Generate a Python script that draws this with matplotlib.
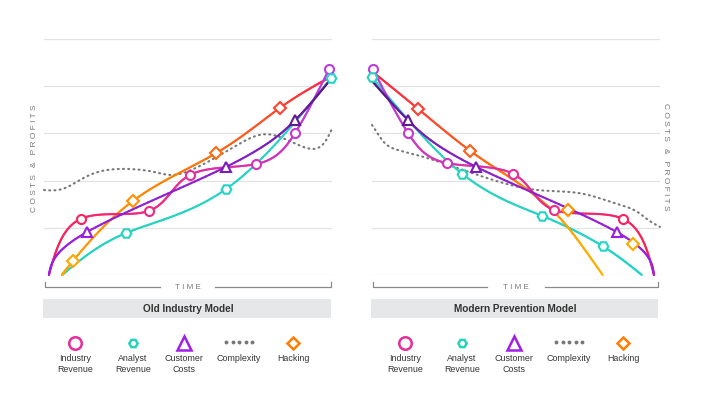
import numpy as np
import matplotlib.pyplot as plt
from matplotlib.collections import LineCollection
from matplotlib.colors import LinearSegmentedColormap

# ---- data (time 0..100, level 0..5) ----
old_ir_x = [1.7, 12.8, 36.5, 50.7, 73.6, 87.2, 99.0]
old_ir_y = [0, 1.19, 1.36, 2.12, 2.35, 3.01, 4.36]
old_an_x = [6.3, 28.5, 63.2, 99.7]
old_an_y = [0, 0.89, 1.82, 4.17]
old_cc_x = [1.7, 14.9, 63.2, 87.2, 99.3]
old_cc_y = [0, 0.91, 2.29, 3.28, 4.13]
old_hk_x = [6.3, 10.1, 30.9, 59.7, 81.9, 99.3]
old_hk_y = [0, 0.30, 1.57, 2.58, 3.54, 4.19]
old_hk_mx = [10.1, 30.9, 59.7, 81.9]
old_hk_my = [0.30, 1.57, 2.58, 3.54]
old_cx_x = [0, 8.0, 19.8, 36.8, 48.3, 65.6, 79.2, 93.1, 100]
old_cx_y = [1.80, 1.86, 2.20, 2.20, 2.16, 2.70, 2.97, 2.67, 3.10]

new_ir_x = [0.3, 12.5, 26.1, 49.1, 63.1, 87.1, 97.9]
new_ir_y = [4.36, 3.01, 2.37, 2.14, 1.38, 1.19, 0]
new_an_x = [0, 31.4, 59.2, 80.1, 93.7]
new_an_y = [4.19, 2.14, 1.25, 0.61, 0]
new_cc_x = [0.3, 12.5, 36.2, 85.0, 97.9]
new_cc_y = [4.09, 3.28, 2.29, 0.91, 0]
new_hk_x = [0.3, 16.0, 34.1, 48.1, 58.5, 67.9, 80.1]
new_hk_y = [4.30, 3.52, 2.63, 2.06, 1.59, 1.02, 0]
new_hk_mx = [16.0, 34.1, 67.9, 90.6]
new_hk_my = [3.52, 2.63, 1.38, 0.66]
new_cx_x = [0, 2.8, 6.3, 13.2, 24.7, 42.2, 57.5, 71.4, 82.9, 90.9, 95.8, 100]
new_cx_y = [3.18, 2.92, 2.71, 2.58, 2.37, 2.01, 1.80, 1.74, 1.55, 1.38, 1.17, 1.02]

titles = ["Old Industry Model", "Modern Prevention Model"]
legend_labels = ["Industry\nRevenue", "Analyst\nRevenue", "Customer\nCosts", "Complexity", "Hacking"]

RED = "#ff1f4b"
PINK = "#e52e9c"
MAGENTA = "#b93de3"
TEAL = "#27d3bd"
VIOLET = "#a11fe6"
DPURPLE = "#531782"
ORANGE = "#ff7d00"
YELLOW = "#ffb300"
GRAY = "#777777"


def natural(v):
    # natural cubic spline control points (same scheme as d3 curveNatural)
    v = np.asarray(v, float)
    n = len(v) - 1
    if n == 1:
        return np.array([v[0] + (v[1] - v[0]) / 3]), np.array([v[0] + 2 * (v[1] - v[0]) / 3])
    a = np.zeros(n); b = np.zeros(n); r = np.zeros(n)
    b[0] = 2; r[0] = v[0] + 2 * v[1]
    for i in range(1, n - 1):
        a[i] = 1; b[i] = 4; r[i] = 4 * v[i] + 2 * v[i + 1]
    a[n - 1] = 2; b[n - 1] = 7; r[n - 1] = 8 * v[n - 1] + v[n]
    for i in range(1, n):
        m = a[i] / b[i - 1]
        b[i] -= m
        r[i] -= m * r[i - 1]
    a[n - 1] = r[n - 1] / b[n - 1]
    for i in range(n - 2, -1, -1):
        a[i] = (r[i] - a[i + 1]) / b[i]
    b[n - 1] = (v[n] + a[n - 1]) / 2
    for i in range(n - 1):
        b[i] = 2 * v[i + 1] - a[i + 1]
    return a, b


def smooth(xs, ys, k=40):
    ax_, bx_ = natural(xs)
    ay_, by_ = natural(ys)
    t = np.linspace(0, 1, k)
    px, py = [], []
    for i in range(len(xs) - 1):
        c = [(1 - t) ** 3, 3 * (1 - t) ** 2 * t, 3 * (1 - t) * t ** 2, t ** 3]
        px.append(c[0] * xs[i] + c[1] * ax_[i] + c[2] * bx_[i] + c[3] * xs[i + 1])
        py.append(c[0] * ys[i] + c[1] * ay_[i] + c[2] * by_[i] + c[3] * ys[i + 1])
    return np.concatenate(px), np.concatenate(py)


def grad_line(ax, xs, ys, colors, lw=1.5, z=3):
    px, py = smooth(xs, ys)
    pts = np.column_stack([px, py]).reshape(-1, 1, 2)
    segs = np.concatenate([pts[:-1], pts[1:]], axis=1)
    cmap = LinearSegmentedColormap.from_list("g", colors)
    lc = LineCollection(segs, cmap=cmap, linewidths=lw, zorder=z, clip_on=False,
                        capstyle="round")
    lc.set_array(np.linspace(0, 1, len(segs)))
    ax.add_collection(lc)
    return cmap


def marks(ax, xs, ys, marker, cmap, size, lw=1.5, x0=0, x1=100):
    for x, y in zip(xs, ys):
        ax.plot(x, y, marker=marker, ms=size, mfc="white", mew=lw,
                mec=cmap((x - x0) / (x1 - x0)), zorder=5, clip_on=False)


fig = plt.figure(figsize=(7.2, 3.96), dpi=100)
plt.rcParams["font.family"] = ["Liberation Sans", "DejaVu Sans"]

panels = [
    (44, dict(ir=(old_ir_x, old_ir_y), an=(old_an_x, old_an_y), cc=(old_cc_x, old_cc_y),
              hk=(old_hk_x, old_hk_y), hkm=(old_hk_mx, old_hk_my), cx=(old_cx_x, old_cx_y)), False),
    (372, dict(ir=(new_ir_x, new_ir_y), an=(new_an_x, new_an_y), cc=(new_cc_x, new_cc_y),
               hk=(new_hk_x, new_hk_y), hkm=(new_hk_mx, new_hk_my), cx=(new_cx_x, new_cx_y)), True),
]

for left_px, d, flip in panels:
    ax = fig.add_axes([left_px / 720, 1 - 275 / 396, 288 / 720, 236 / 396])
    ax.set_xlim(0, 100)
    ax.set_ylim(0, 5)
    ax.axis("off")
    for g in range(6):
        ax.axhline(g, color="#e3e3e3", lw=0.9, zorder=0)

    def seq(c):
        return c[::-1] if flip else c

    ax.plot(*smooth(*d["cx"]), color=GRAY, lw=1.5, ls=(0, (0.5, 2.0)),
            dash_capstyle="round", zorder=2, clip_on=False)
    an_cm = grad_line(ax, *d["an"], [TEAL, "#22d4c8"])
    hk_cm = grad_line(ax, *d["hk"], seq([YELLOW, ORANGE, RED]))
    ir_cm = grad_line(ax, *d["ir"], seq([RED, PINK, MAGENTA]))
    cc_cm = grad_line(ax, *d["cc"], seq([VIOLET, "#8a1fcf", DPURPLE]))

    ir_x, ir_y = d["ir"]
    an_x, an_y = d["an"]
    cc_x, cc_y = d["cc"]
    if flip:
        marks(ax, ir_x[:-1], ir_y[:-1], "o", ir_cm, 6.5)
        marks(ax, an_x[:-1], an_y[:-1], "H", an_cm, 7)
        marks(ax, cc_x[1:-1], cc_y[1:-1], "^", cc_cm, 7)
    else:
        marks(ax, ir_x[1:], ir_y[1:], "o", ir_cm, 6.5)
        marks(ax, an_x[1:], an_y[1:], "H", an_cm, 7)
        marks(ax, cc_x[1:-1], cc_y[1:-1], "^", cc_cm, 7)
    marks(ax, *d["hkm"], "D", hk_cm, 6)

# overlay in pixel space for the frame decorations
ov = fig.add_axes([0, 0, 1, 1])
ov.set_xlim(0, 720)
ov.set_ylim(396, 0)
ov.axis("off")

brackets = [(45, 331, 160, 215), (373, 658, 487, 545)]
for i, (a, b, c1, c2) in enumerate(brackets):
    ov.plot([a, a, c1], [282, 287, 287], color="#8a8a8a", lw=0.9)
    ov.plot([c2, b, b], [287, 287, 282], color="#8a8a8a", lw=0.9)
    ov.text((c1 + c2) / 2, 287.5, "T I M E", ha="center", va="center", fontsize=5.8, color=GRAY)
    ov.add_patch(plt.Rectangle((a - 2, 299), b - a + 2, 19, color="#e6e7e8", lw=0))
    ov.text((a + b) / 2, 309, titles[i], ha="center", va="center", fontsize=7.2,
            fontweight="bold", color="#333333")

ov.text(35, 158, "C O S T S   &   P R O F I T S", rotation=90, ha="center", va="center",
        fontsize=6, color=GRAY)
ov.text(666, 157, "C O S T S   &   P R O F I T S", rotation=270, ha="center", va="center",
        fontsize=6, color=GRAY)

leg_cmaps = [
    LinearSegmentedColormap.from_list("a", [MAGENTA, PINK, RED]),
    LinearSegmentedColormap.from_list("b", [TEAL, TEAL]),
    LinearSegmentedColormap.from_list("c", [VIOLET, VIOLET]),
    None,
    LinearSegmentedColormap.from_list("e", [RED, ORANGE, YELLOW]),
]
leg_markers = [("o", 9), ("H", 6), ("^", 10), (None, 0), ("D", 6.5)]
for xs in ([75, 133, 184, 239, 293], [405, 462, 514, 569, 623]):
    for x, lab, (m, s), cm in zip(xs, legend_labels, leg_markers, leg_cmaps):
        if m is None:
            ov.plot([x - 13, x - 6.5, x, x + 6.5, x + 13], [342] * 5, ls="none", marker="o",
                    ms=1.8, color=GRAY)
        else:
            ov.plot(x, 343, marker=m, ms=s, mfc="white", mew=1.8, mec=cm(0.5))
        ov.text(x, 354, lab, ha="center", va="top", fontsize=6.4, color="#333333",
                linespacing=1.25)

fig.savefig("out.png", dpi=100)
